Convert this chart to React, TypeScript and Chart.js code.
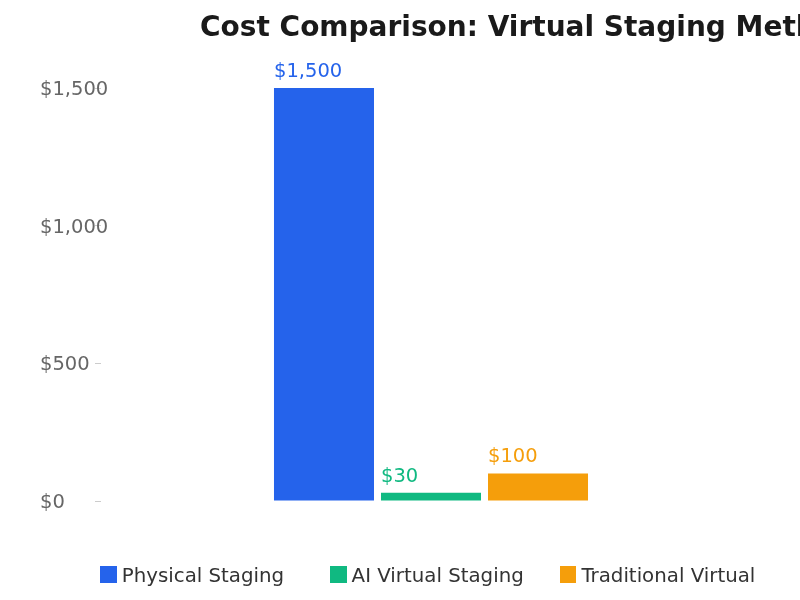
import { useEffect, useRef } from "react"
import { Chart, registerables } from "chart.js"

Chart.register(...registerables)

// data
const categories = ["Cost per room"]
const methods = ["Physical Staging", "AI Virtual Staging", "Traditional Virtual"]
const costs = [1500, 30, 100]
const colors = ["#2563eb", "#10b981", "#f59e0b"]
const yTicks = [0, 500, 1000, 1500]

const FONT = "'DejaVu Sans', sans-serif"
const TEXT_SIZE = 19.5

const money = (v: number) => "$" + v.toLocaleString("en-US")

// value labels above each bar, left aligned with the bar, in the bar colour
const valueLabels = {
  id: "valueLabels",
  afterDatasetsDraw(chart: any) {
    const { ctx } = chart
    ctx.save()
    ctx.font = TEXT_SIZE + "px " + FONT
    ctx.textAlign = "left"
    ctx.textBaseline = "alphabetic"
    chart.data.datasets.forEach((ds: any, i: number) => {
      const meta = chart.getDatasetMeta(i)
      meta.data.forEach((bar: any, j: number) => {
        ctx.fillStyle = ds.backgroundColor
        ctx.fillText(money(ds.data[j]), bar.x - bar.width / 2, bar.y - 11)
      })
    })
    ctx.restore()
  },
}

export default function App() {
  const canvasRef = useRef<HTMLCanvasElement>(null)

  useEffect(() => {
    if (!canvasRef.current) return
    const ctx = canvasRef.current.getContext("2d")
    if (!ctx) return

    const chart = new Chart(ctx, {
      type: "bar",
      data: {
        labels: categories,
        datasets: methods.map((name, i) => ({
          label: name,
          data: [costs[i]],
          backgroundColor: colors[i],
          borderWidth: 0,
          categoryPercentage: 0.4864,
          barPercentage: 0.9346,
        })),
      },
      options: {
        responsive: true,
        maintainAspectRatio: false,
        animation: false,
        layout: {
          padding: { top: 88, right: 39, bottom: 99, left: 40 },
        },
        plugins: {
          legend: { display: false },
          title: { display: false },
          tooltip: { enabled: false },
        },
        scales: {
          x: { display: false },
          y: {
            min: 0,
            max: 1500,
            afterFit: (scale: any) => {
              scale.width = 61
            },
            afterBuildTicks: (scale: any) => {
              scale.ticks = yTicks.map((v) => ({ value: v }))
            },
            grid: {
              drawOnChartArea: false,
              tickLength: 6,
              color: "#cccccc",
            },
            border: { display: false },
            ticks: {
              // mirrored so the labels are not clipped to the narrow axis box,
              // then pulled back to the left edge
              mirror: true,
              padding: -61,
              labelOffset: 2,
              color: "#666666",
              font: { size: TEXT_SIZE, family: FONT },
              callback: (v: any) => money(Number(v)),
            },
          },
        },
      },
      plugins: [valueLabels],
    })

    return () => chart.destroy()
  }, [])

  return (
    <div
      style={{
        position: "absolute",
        left: 0,
        top: 0,
        width: 800,
        height: 600,
        overflow: "hidden",
        background: "#ffffff",
        fontFamily: FONT,
      }}
    >
      <div style={{ position: "absolute", left: 0, top: 0, width: 800, height: 600 }}>
        <canvas ref={canvasRef}></canvas>
      </div>

      <div
        style={{
          position: "absolute",
          left: 200,
          top: 13,
          fontSize: 28,
          lineHeight: "28px",
          fontWeight: "bold",
          color: "#1a1a1a",
          whiteSpace: "nowrap",
        }}
      >
        Cost Comparison: Virtual Staging Methods
      </div>

      <div style={{ position: "absolute", left: 100, top: 565.8, display: "flex" }}>
        {methods.map((name, i) => (
          <div key={name} style={{ width: 229.8, height: 20, display: "flex", alignItems: "flex-start" }}>
            <span
              style={{
                width: 16.8,
                height: 16.8,
                marginRight: 5,
                flex: "none",
                background: colors[i],
              }}
            />
            <span style={{ fontSize: 19.8, lineHeight: "20px", color: "#333333", whiteSpace: "nowrap" }}>
              {name}
            </span>
          </div>
        ))}
      </div>
    </div>
  )
}
